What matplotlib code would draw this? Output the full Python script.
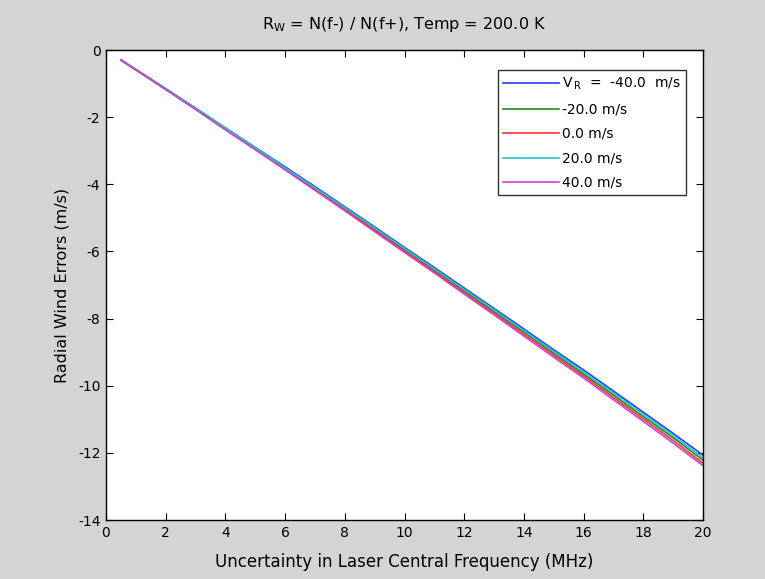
import numpy as np
import matplotlib
matplotlib.use("Agg")
import matplotlib.pyplot as plt

plt.rcParams['font.family'] = ['DejaVu Sans']
plt.rcParams['axes.unicode_minus'] = False

# Incertitude sur la fréquence laser (MHz)
freq = [0.5, 1, 2, 3, 4, 5, 6, 7, 8, 9, 10, 11, 12, 13, 14, 15, 16, 17, 18, 19, 20]

# Erreurs de vent radial (m/s) pour chaque vitesse V_R
err_m40 = [-0.29, -0.58, -1.15, -1.73, -2.32, -2.90, -3.48, -4.07, -4.67, -5.27, -5.88,
           -6.48, -7.09, -7.70, -8.31, -8.93, -9.53, -10.16, -10.79, -11.42, -12.07]
err_m20 = [-0.30, -0.59, -1.16, -1.75, -2.34, -2.93, -3.53, -4.12, -4.73, -5.33, -5.95,
           -6.56, -7.17, -7.79, -8.40, -9.03, -9.65, -10.28, -10.92, -11.55, -12.22]
err_0 = [-0.30, -0.59, -1.17, -1.76, -2.36, -2.95, -3.55, -4.15, -4.76, -5.37, -5.99,
         -6.60, -7.22, -7.84, -8.46, -9.09, -9.71, -10.35, -10.99, -11.63, -12.31]
err_p20 = [-0.30, -0.58, -1.16, -1.74, -2.33, -2.91, -3.51, -4.10, -4.70, -5.30, -5.91,
           -6.52, -7.13, -7.74, -8.36, -8.98, -9.59, -10.22, -10.85, -11.49, -12.15]
err_p40 = [-0.30, -0.59, -1.18, -1.77, -2.38, -2.97, -3.57, -4.18, -4.79, -5.41, -6.03,
           -6.64, -7.27, -7.89, -8.52, -9.15, -9.77, -10.42, -11.06, -11.71, -12.38]

labels = [r'V$_{\,\mathrm{R}}$  =  -40.0  m/s', '-20.0 m/s', '0.0 m/s', '20.0 m/s', '40.0 m/s']
couleurs = ['#2040ff', '#1a901a', '#ff3030', '#20c8c8', '#d040d0']
series = [err_m40, err_m20, err_0, err_p20, err_p40]

fig = plt.figure(figsize=(7.65, 5.79), dpi=100, facecolor='#d4d4d4')
ax = fig.add_axes([106/765, 1-520/579, 597/765, 470/579])

for y, c, lab in zip(series, couleurs, labels):
    ax.plot(freq, y, color=c, lw=1.2, label=lab)

ax.set_xlim(0, 20)
ax.set_ylim(-14, 0)
ax.set_xticks(np.arange(0, 21, 2))
ax.set_yticks(np.arange(-14, 1, 2))
ax.tick_params(direction='in', top=True, right=True, labelsize=10, length=5, pad=4)
for s in ax.spines.values():
    s.set_linewidth(1.0)

ax.set_xlabel('Uncertainty in Laser Central Frequency (MHz)', fontsize=12, labelpad=10)
ax.set_ylabel('Radial Wind Errors (m/s)', fontsize=11.5, labelpad=6)
ax.set_title(r'R$_\mathrm{W}$ = N(f-) / N(f+), Temp = 200.0 K', fontsize=11.5, pad=15)

leg = ax.legend(loc='upper right', bbox_to_anchor=(0.972, 0.957), fontsize=10,
                frameon=True, fancybox=False, edgecolor='black', handlelength=4.0,
                borderaxespad=0, borderpad=0.4, labelspacing=0.75, handletextpad=0.2)
leg.get_frame().set_linewidth(1.0)

fig.savefig('out.png', dpi=100, facecolor=fig.get_facecolor())
